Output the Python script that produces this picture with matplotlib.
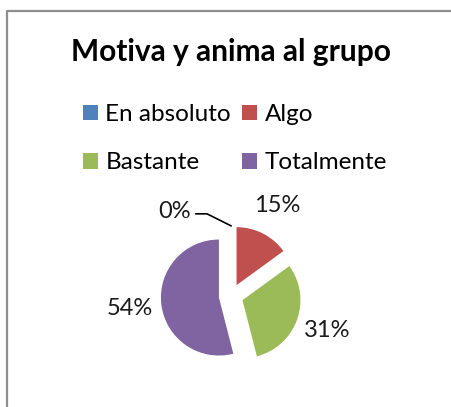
import matplotlib.pyplot as plt
from matplotlib.lines import Line2D
import numpy as np

# data
categories = ['En absoluto', 'Algo', 'Bastante', 'Totalmente']
values = [0, 15, 31, 54]
colors = ['#4F81BD', '#C0504D', '#9BBB59', '#8064A2']
title = 'Motiva y anima al grupo'

plt.rcParams['font.family'] = ['Lato', 'DejaVu Sans']

W, H = 451, 407
R = 58.0          # pie radius in pixels
cx, cy = 231, 296  # pie centre in image pixels (y down)

fig = plt.figure(figsize=(W / 100, H / 100), dpi=100)

ax = fig.add_axes([0, 0, 1, 1])
wedges, texts, autotexts = ax.pie(
    values, colors=colors, startangle=90, counterclock=False,
    explode=[0.21] * len(values), radius=1, center=(0, 0),
    autopct='%1.0f%%', pctdistance=1.55,
    wedgeprops=dict(linewidth=0),
    textprops=dict(fontsize=17, color='#1a1a1a'))
ax.set_xlim(-cx / R, (W - cx) / R)
ax.set_ylim(-(H - cy) / R, cy / R)
ax.axis('off')

# the 0% label sits to the left with a leader line
w0 = wedges[0]
t = np.deg2rad(w0.theta1)
tip = (w0.center[0] + np.cos(t), w0.center[1] + np.sin(t))
elbow = (tip[0] - 24 / R, tip[1] + 12 / R)
end = (elbow[0] - 11 / R, elbow[1])
ax.add_line(Line2D([tip[0], elbow[0], end[0]], [tip[1], elbow[1], end[1]],
                   color='black', lw=1.2))
autotexts[0].set_position((end[0] - 5 / R, end[1] + 2 / R))
autotexts[0].set_ha('right')

fig.text(231 / W, 1 - 52 / H, title, ha='center', va='center',
         fontsize=21.5, fontweight='bold', color='black')

order = [0, 2, 1, 3]
fig.legend([wedges[i] for i in order], [categories[i] for i in order],
           ncol=2, frameon=False, fontsize=17.5,
           handlelength=0.62, handleheight=0.62, handletextpad=0.3,
           columnspacing=0.47, labelspacing=1.12, borderpad=0, borderaxespad=0,
           loc='upper left', bbox_to_anchor=(83 / W, 1 - 104 / H))

# chart area border (top and left visible)
fig.add_artist(Line2D([7 / W, 7 / W, 1], [0, 1 - 10.5 / H, 1 - 10.5 / H],
                      transform=fig.transFigure, color='#8e8e8e', lw=1.6))

fig.savefig('out.png', dpi=100)
